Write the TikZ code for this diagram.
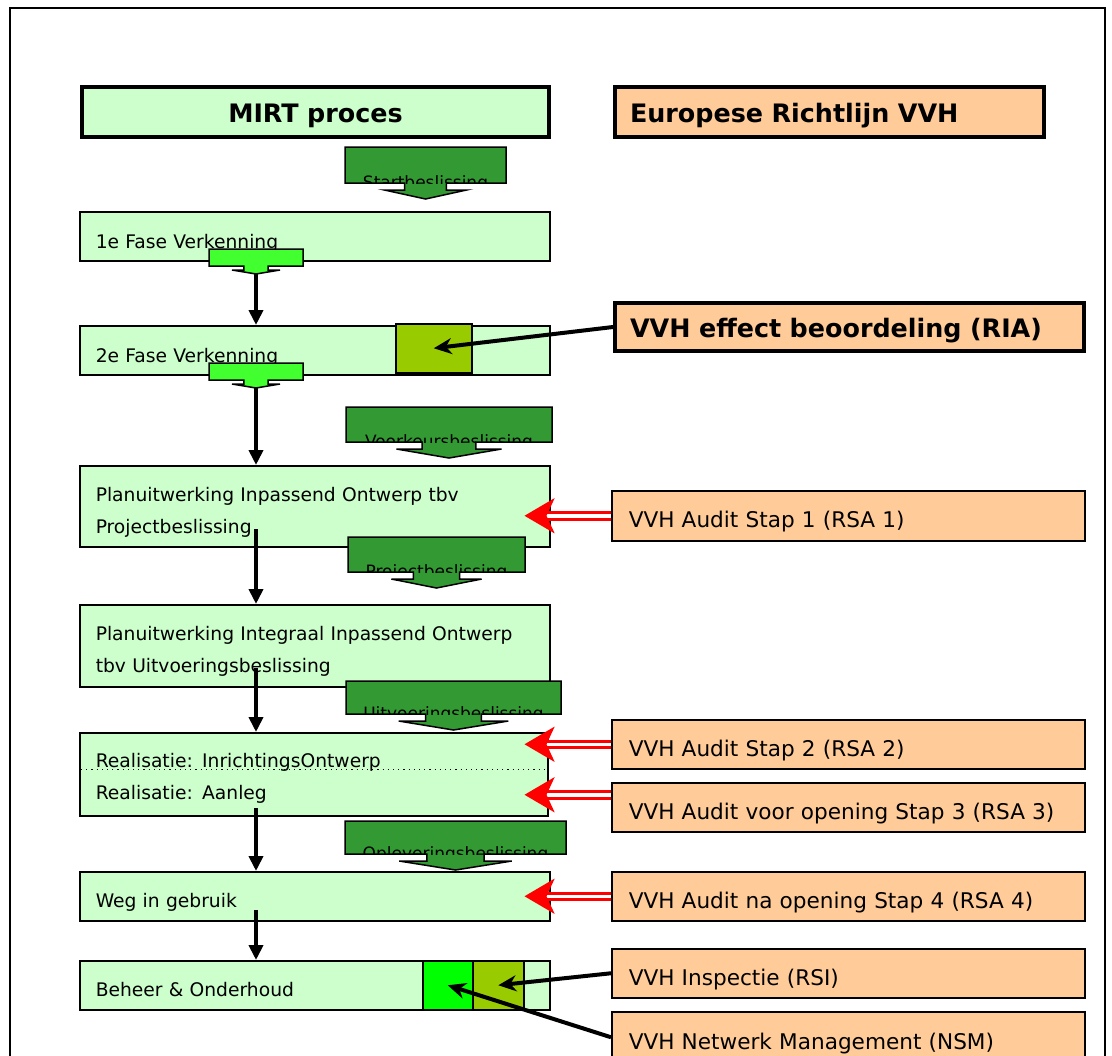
\documentclass[tikz,border=0pt]{standalone}
\usepackage{fontspec}
\setmainfont{DejaVu Sans}
\usetikzlibrary{arrows.meta,positioning,calc}

\definecolor{mirtgroen}{RGB}{204,255,204}
\definecolor{vvhoranje}{RGB}{255,204,153}
\definecolor{besluitgroen}{RGB}{51,153,51}
\definecolor{fasegroen}{RGB}{66,255,48}
\definecolor{olijf}{RGB}{153,204,0}
\definecolor{felgroen}{RGB}{0,255,0}

% block arrow: style, name, x1, y1, x2, y2, shoulder drop, tip drop
\newcommand{\besluitvorm}[8]{%
  \pgfmathsetmacro{\bmx}{(#3+#5)/2}
  \pgfmathsetmacro{\bsw}{0.13*(#5-#3)}
  \pgfmathsetmacro{\bhw}{0.255*(#5-#3)}
  \draw[#1] (#3,#4) -- (#5,#4) -- (#5,#6) -- (\bmx+\bsw,#6) -- (\bmx+\bsw,#6+#7)
    -- (\bmx+\bhw,#6+#7) -- (\bmx,#6+#8) -- (\bmx-\bhw,#6+#7) -- (\bmx-\bsw,#6+#7)
    -- (\bmx-\bsw,#6) -- (#3,#6) -- cycle;
  \coordinate (#2tip) at (\bmx,#6+#8);
}
% decision arrow with its (cut off) label
\newcommand{\besluit}[6]{%
  \besluitvorm{besluitpijl}{#1}{#2}{#3}{#4}{#5}{7}{16}
  \begin{scope}
    \clip (#2,#3) rectangle (#4,#5);
    \node[besluittekst] (#1txt) at (\bmx,#5+5) {#6};
  \end{scope}
}

\begin{document}
\begin{tikzpicture}[>=Latex, x=0.5pt, y=-0.5pt]
  \tikzstyle{fase}=[draw, fill=mirtgroen, line width=0.75pt, anchor=north west, minimum width=235pt, minimum height=24.5pt, inner xsep=8pt, inner ysep=0pt, text width=219pt, align=left, font=\fontsize{9.35}{16}\selectfont, text height=12.5pt, text depth=0pt]
  \tikzstyle{audit}=[draw, fill=vvhoranje, line width=0.75pt, anchor=north west, minimum width=236.5pt, minimum height=24.5pt, inner xsep=8.5pt, inner ysep=0pt, text width=219.5pt, align=left, font=\fontsize{10.8}{13}\selectfont, text height=12pt, text depth=0pt]
  \tikzstyle{kop}=[draw, line width=2pt, anchor=north west, minimum height=25pt, inner xsep=8.5pt, inner ysep=0pt, font=\fontsize{12.7}{15}\selectfont\bfseries, text height=10.5pt, text depth=0pt]
  \tikzstyle{merk}=[draw, line width=0.75pt, anchor=north west, minimum height=24.5pt, inner sep=0pt]
  \tikzstyle{besluitpijl}=[draw, fill=besluitgroen, line width=0.75pt]
  \tikzstyle{fasepijl}=[draw, fill=fasegroen, line width=0.75pt]
  \tikzstyle{besluittekst}=[anchor=base, inner sep=0pt, font=\fontsize{8.5}{10}\selectfont]
  \tikzstyle{pijl}=[line width=2pt, -{Triangle[length=7.5pt,width=7pt]}]
  \tikzstyle{wijzer}=[line width=2pt, -{Stealth[length=9pt,width=8pt]}]
  \tikzstyle{rsa}=[draw=red, double=white, double distance=1.75pt, line width=1.5pt, -{Stealth[length=15pt,width=17.5pt,inset=4pt,color=red,fill=red]}]

  \useasboundingbox (0,0) rectangle (1112,1055);
  \draw[line width=1pt] (10,1075) -- (10,8) -- (1105,8) -- (1105,1075);

  % Headers
  \node[kop, fill=mirtgroen, text width=216.5pt, align=center] (mirt) at (80,85) {MIRT proces};
  \node[kop, fill=vvhoranje, inner xsep=7.5pt, text width=199.5pt, align=left] (euro) at (613,85) {Europese Richtlijn VVH};

  % MIRT column
  \node[fase] (fase1) at (79,211) {1e Fase Verkenning};
  \node[fase] (fase2) at (79,325) {2e Fase Verkenning};
  \node[fase, minimum height=40.5pt, text height=7pt, text depth=11.5pt] (plan1) at (79,465) {Planuitwerking Inpassend Ontwerp tbv\\Projectbeslissing};
  \node[fase, minimum height=41pt, text height=7pt, text depth=12pt] (plan2) at (79,604) {Planuitwerking Integraal Inpassend Ontwerp\\tbv Uitvoeringsbeslissing};
  \node[fase, minimum width=234pt, text width=218pt, minimum height=41.5pt, text height=7pt, text depth=13.5pt] (real) at (79,732) {Realisatie: InrichtingsOntwerp\\Realisatie: Aanleg};
  \draw[dotted, line width=0.6pt] ($(real.west)+(2,-4.5)$) -- ($(real.east)+(0,-4.5)$);
  \node[fase, text height=11.5pt] (gebruik) at (79,871) {Weg in gebruik};
  \node[fase, text height=11.5pt] (beheer) at (79,960) {Beheer \& Onderhoud};

  % VVH column
  \node[kop, fill=vvhoranje, minimum height=24pt, inner xsep=7.5pt, text width=219.5pt, align=left] (ria) at (613,301) {VVH effect beoordeling (RIA)};
  \node[audit, minimum height=25pt] (rsa1) at (611,490) {VVH Audit Stap 1 (RSA 1)};
  \node[audit] (rsa2) at (611,719) {VVH Audit Stap 2 (RSA 2)};
  \node[audit] (rsa3) at (611,782) {VVH Audit voor opening Stap 3 (RSA 3)};
  \node[audit] (rsa4) at (611,871) {VVH Audit na opening Stap 4 (RSA 4)};
  \node[audit] (rsi) at (611,948) {VVH Inspectie (RSI)};
  \node[audit, minimum height=25.5pt] (nsm) at (611,1011) {VVH Netwerk Management (NSM)};

  % Marks inside the phases
  \node[merk, fill=olijf, minimum width=38pt] (riamerk) at (395,323) {};
  \node[merk, fill=felgroen, minimum width=25pt] (nsmmerk) at (422,960) {};
  \node[merk, fill=olijf, minimum width=25.5pt] (rsimerk) at (472,960) {};

  % Decision arrows
  \besluitvorm{fasepijl}{fv1}{209}{249}{303}{266}{4}{8}
  \besluitvorm{fasepijl}{fv2}{209}{363}{303}{380}{4}{8}
  \besluit{start}{345}{147}{506}{183}{Startbeslissing}
  \besluit{voorkeur}{346}{407}{552}{442}{Voorkeursbeslissing}
  \besluit{project}{348}{537}{525}{572}{Projectbeslissing}
  \besluit{uitvoering}{346}{681}{561}{714}{Uitvoeringsbeslissing}
  \besluit{oplevering}{345}{821}{566}{854}{Opleveringsbeslissing}

  % Flow arrows
  \coordinate (s3) at (256,529);
  \coordinate (s4) at (256,668);
  \coordinate (s5) at (256,808);
  \coordinate (s6) at (256,910);
  \draw[pijl] (fv1tip) -- (fv1tip |- fase2.north);
  \draw[pijl] (fv2tip) -- (fv2tip |- plan1.north);
  \draw[pijl] (s3) -- (s3 |- plan2.north);
  \draw[pijl] (s4) -- (s4 |- real.north);
  \draw[pijl] (s5) -- (s5 |- gebruik.north);
  \draw[pijl] (s6) -- (s6 |- beheer.north);

  % Audits
  \draw[rsa] (rsa1.west) -- ($(rsa1.west -| plan1.east)+(-26,0)$);
  \draw[rsa] (rsa2.west) -- ($(rsa2.west -| real.east)+(-24,0)$);
  \draw[rsa] ($(rsa3.west)+(0,-12.5)$) -- ($(rsa3.west -| real.east)+(-24,-12.5)$);
  \draw[rsa] (rsa4.west) -- ($(rsa4.west -| gebruik.east)+(-26,0)$);

  % Pointers to marks
  \draw[wijzer] (ria.west) -- (riamerk.center);
  \draw[wijzer] (rsi.west) -- (rsimerk.center);
  \draw[wijzer] (nsm.west) -- (nsmmerk.center);
\end{tikzpicture}
\end{document}
